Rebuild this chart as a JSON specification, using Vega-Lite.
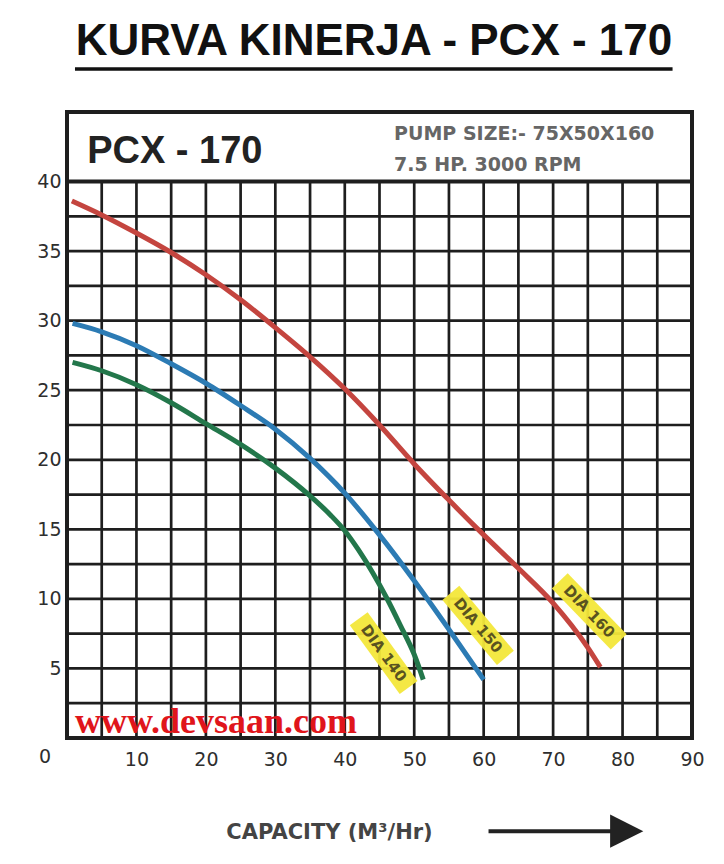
{
  "$schema": "https://vega.github.io/schema/vega-lite/v6.json",
  "width": 625,
  "height": 626,
  "autosize": "none",
  "padding": {"left": 67, "top": 112, "right": 32, "bottom": 126},
  "background": "#ffffff",
  "data": {"values": [{"anchor": 1}]},
  "config": {
    "view": {"stroke": "#1e1e1e", "strokeWidth": 4},
    "axis": {
      "domain": false,
      "ticks": false,
      "grid": false,
      "labelFont": "DejaVu Sans",
      "labelFontSize": 19,
      "labelColor": "#2e2e2e",
      "labelOverlap": false,
      "labelFlush": false
    }
  },
  "datasets": {
    "vgrid": [
      {"v": 5}, {"v": 10}, {"v": 15}, {"v": 20}, {"v": 25}, {"v": 30}, {"v": 35}, {"v": 40}, {"v": 45},
      {"v": 50}, {"v": 55}, {"v": 60}, {"v": 65}, {"v": 70}, {"v": 75}, {"v": 80}, {"v": 85}
    ],
    "hgrid": [
      {"v": 2.5}, {"v": 5}, {"v": 7.5}, {"v": 10}, {"v": 12.5}, {"v": 15}, {"v": 17.5}, {"v": 20},
      {"v": 22.5}, {"v": 25}, {"v": 27.5}, {"v": 30}, {"v": 32.5}, {"v": 35}, {"v": 37.5}
    ],
    "curves": [
      {"series": "DIA 160", "q": 0.7, "h": 38.6},
      {"series": "DIA 160", "q": 5, "h": 37.6},
      {"series": "DIA 160", "q": 10, "h": 36.3},
      {"series": "DIA 160", "q": 15, "h": 34.9},
      {"series": "DIA 160", "q": 20, "h": 33.3},
      {"series": "DIA 160", "q": 25, "h": 31.5},
      {"series": "DIA 160", "q": 30, "h": 29.5},
      {"series": "DIA 160", "q": 35, "h": 27.4},
      {"series": "DIA 160", "q": 40, "h": 25.1},
      {"series": "DIA 160", "q": 45, "h": 22.5},
      {"series": "DIA 160", "q": 50, "h": 19.7},
      {"series": "DIA 160", "q": 55, "h": 17.1},
      {"series": "DIA 160", "q": 60, "h": 14.6},
      {"series": "DIA 160", "q": 65, "h": 12.2},
      {"series": "DIA 160", "q": 70, "h": 9.7},
      {"series": "DIA 160", "q": 75, "h": 6.5},
      {"series": "DIA 160", "q": 76.8, "h": 5.1},
      {"series": "DIA 150", "q": 0.8, "h": 29.8},
      {"series": "DIA 150", "q": 5, "h": 29.2},
      {"series": "DIA 150", "q": 10, "h": 28.2},
      {"series": "DIA 150", "q": 15, "h": 26.9},
      {"series": "DIA 150", "q": 20, "h": 25.5},
      {"series": "DIA 150", "q": 25, "h": 23.9},
      {"series": "DIA 150", "q": 30, "h": 22.2},
      {"series": "DIA 150", "q": 35, "h": 20.1},
      {"series": "DIA 150", "q": 40, "h": 17.6},
      {"series": "DIA 150", "q": 45, "h": 14.6},
      {"series": "DIA 150", "q": 50, "h": 11.3},
      {"series": "DIA 150", "q": 55, "h": 7.8},
      {"series": "DIA 150", "q": 60, "h": 4.2},
      {"series": "DIA 140", "q": 0.8, "h": 27.0},
      {"series": "DIA 140", "q": 5, "h": 26.4},
      {"series": "DIA 140", "q": 10, "h": 25.4},
      {"series": "DIA 140", "q": 15, "h": 24.1},
      {"series": "DIA 140", "q": 20, "h": 22.6},
      {"series": "DIA 140", "q": 25, "h": 21.1},
      {"series": "DIA 140", "q": 30, "h": 19.4},
      {"series": "DIA 140", "q": 35, "h": 17.4},
      {"series": "DIA 140", "q": 38, "h": 16.0},
      {"series": "DIA 140", "q": 40, "h": 14.9},
      {"series": "DIA 140", "q": 42, "h": 13.5},
      {"series": "DIA 140", "q": 44, "h": 11.9},
      {"series": "DIA 140", "q": 46, "h": 10.1},
      {"series": "DIA 140", "q": 48, "h": 8.1},
      {"series": "DIA 140", "q": 50, "h": 6.0},
      {"series": "DIA 140", "q": 51.3, "h": 4.2}
    ],
    "labels": [
      {"label": "DIA 160", "q": 75.2, "h": 9.1},
      {"label": "DIA 150", "q": 59.2, "h": 8.1},
      {"label": "DIA 140", "q": 45.6, "h": 6.1}
    ]
  },
  "layer": [
    {
      "data": {"name": "vgrid"},
      "mark": {"type": "rule", "color": "#1e1e1e", "strokeWidth": 2.7},
      "encoding": {
        "x": {
          "field": "v", "type": "quantitative",
          "scale": {"domain": [0, 90], "nice": false, "zero": false},
          "axis": {
            "values": [10, 20, 30, 40, 50, 60, 70, 80, 90],
            "labelPadding": 12,
            "title": "CAPACITY (M³/Hr)",
            "titleFont": "DejaVu Sans",
            "titleFontSize": 21,
            "titleFontWeight": "bold",
            "titleColor": "#444444",
            "titleX": 262,
            "titleY": 94,
            "titleBaseline": "middle",
            "titleAlign": "center"
          }
        },
        "y": {
          "datum": 0, "type": "quantitative",
          "scale": {"domain": [0, 45], "nice": false, "zero": false},
          "axis": {
            "values": [5, 10, 15, 20, 25, 30, 35, 40],
            "labelPadding": 6,
            "title": null
          }
        },
        "y2": {"datum": 40}
      }
    },
    {
      "data": {"name": "hgrid"},
      "mark": {"type": "rule", "color": "#1e1e1e", "strokeWidth": 2.7},
      "encoding": {
        "y": {"field": "v", "type": "quantitative"},
        "x": {"datum": 0},
        "x2": {"datum": 90}
      }
    },
    {
      "mark": {"type": "rect", "fill": "#ffffff", "stroke": "#1e1e1e", "strokeWidth": 4},
      "encoding": {
        "x": {"datum": 0}, "x2": {"datum": 90},
        "y": {"datum": 40}, "y2": {"datum": 45}
      }
    },
    {
      "data": {"name": "curves"},
      "mark": {"type": "line", "strokeWidth": 5, "interpolate": "monotone"},
      "encoding": {
        "x": {"field": "q", "type": "quantitative"},
        "y": {"field": "h", "type": "quantitative"},
        "color": {
          "field": "series", "type": "nominal",
          "scale": {"domain": ["DIA 160", "DIA 150", "DIA 140"], "range": ["#c4453f", "#2c7bb4", "#23774b"]},
          "legend": null
        }
      }
    },
    {
      "data": {"name": "labels"},
      "mark": {"type": "point", "shape": "M-1,-0.26L1,-0.26L1,0.26L-1,0.26Z", "filled": true, "color": "#f3e73a", "opacity": 0.95, "size": 7200},
      "encoding": {
        "x": {"field": "q", "type": "quantitative"},
        "y": {"field": "h", "type": "quantitative"},
        "angle": {"field": "label", "type": "nominal", "scale": {"domain": ["DIA 160", "DIA 150", "DIA 140"], "range": [46, 54, 59]}, "legend": null}
      }
    },
    {
      "data": {"name": "labels"},
      "mark": {"type": "text", "font": "DejaVu Sans", "fontWeight": "bold", "fontSize": 15, "color": "#5a5320", "align": "center", "baseline": "middle"},
      "encoding": {
        "x": {"field": "q", "type": "quantitative"},
        "y": {"field": "h", "type": "quantitative"},
        "text": {"field": "label"},
        "angle": {"field": "label", "type": "nominal", "scale": {"domain": ["DIA 160", "DIA 150", "DIA 140"], "range": [46, 54, 59]}, "legend": null}
      }
    },
    {
      "mark": {"type": "text", "text": "0", "font": "DejaVu Sans", "fontSize": 19, "color": "#2e2e2e", "align": "center", "baseline": "middle", "dx": -22, "dy": 19},
      "encoding": {"x": {"datum": 0}, "y": {"datum": 0}}
    },
    {
      "mark": {"type": "text", "text": "PCX - 170", "font": "Liberation Sans", "fontWeight": "bold", "fontSize": 38, "color": "#222222", "align": "left", "baseline": "middle"},
      "encoding": {"x": {"datum": 2.9}, "y": {"datum": 42.1}}
    },
    {
      "mark": {"type": "text", "text": "PUMP SIZE:- 75X50X160", "font": "DejaVu Sans", "fontWeight": "bold", "fontSize": 19, "color": "#666666", "align": "left", "baseline": "middle"},
      "encoding": {"x": {"datum": 47.1}, "y": {"datum": 43.4}}
    },
    {
      "mark": {"type": "text", "text": "7.5 HP. 3000 RPM", "font": "DejaVu Sans", "fontWeight": "bold", "fontSize": 19, "color": "#666666", "align": "left", "baseline": "middle"},
      "encoding": {"x": {"datum": 47.1}, "y": {"datum": 41.2}}
    },
    {
      "mark": {"type": "text", "text": "www.devsaan.com", "font": "Liberation Serif", "fontWeight": "bold", "fontSize": 36, "color": "#e0151b", "align": "left", "baseline": "alphabetic"},
      "encoding": {"x": {"datum": 1.15}, "y": {"datum": 0.36}}
    },
    {
      "mark": {"type": "text", "text": "KURVA KINERJA - PCX - 170", "font": "Liberation Sans", "fontWeight": "bold", "fontSize": 44, "color": "#111111", "align": "center", "baseline": "alphabetic"},
      "encoding": {"x": {"datum": 44.2}, "y": {"datum": 49.1}}
    },
    {
      "mark": {"type": "rule", "color": "#111111", "strokeWidth": 3.5},
      "encoding": {"x": {"datum": 1.15}, "x2": {"datum": 87.2}, "y": {"datum": 48.1}}
    },
    {
      "mark": {"type": "rule", "color": "#222222", "strokeWidth": 4},
      "encoding": {"x": {"datum": 60.7}, "x2": {"datum": 78.5}, "y": {"datum": -6.7}}
    },
    {
      "mark": {"type": "point", "shape": "M-1,-1L1,0L-1,1Z", "filled": true, "color": "#222222", "opacity": 1, "size": 1100},
      "encoding": {"x": {"datum": 80.6}, "y": {"datum": -6.7}}
    }
  ]
}
